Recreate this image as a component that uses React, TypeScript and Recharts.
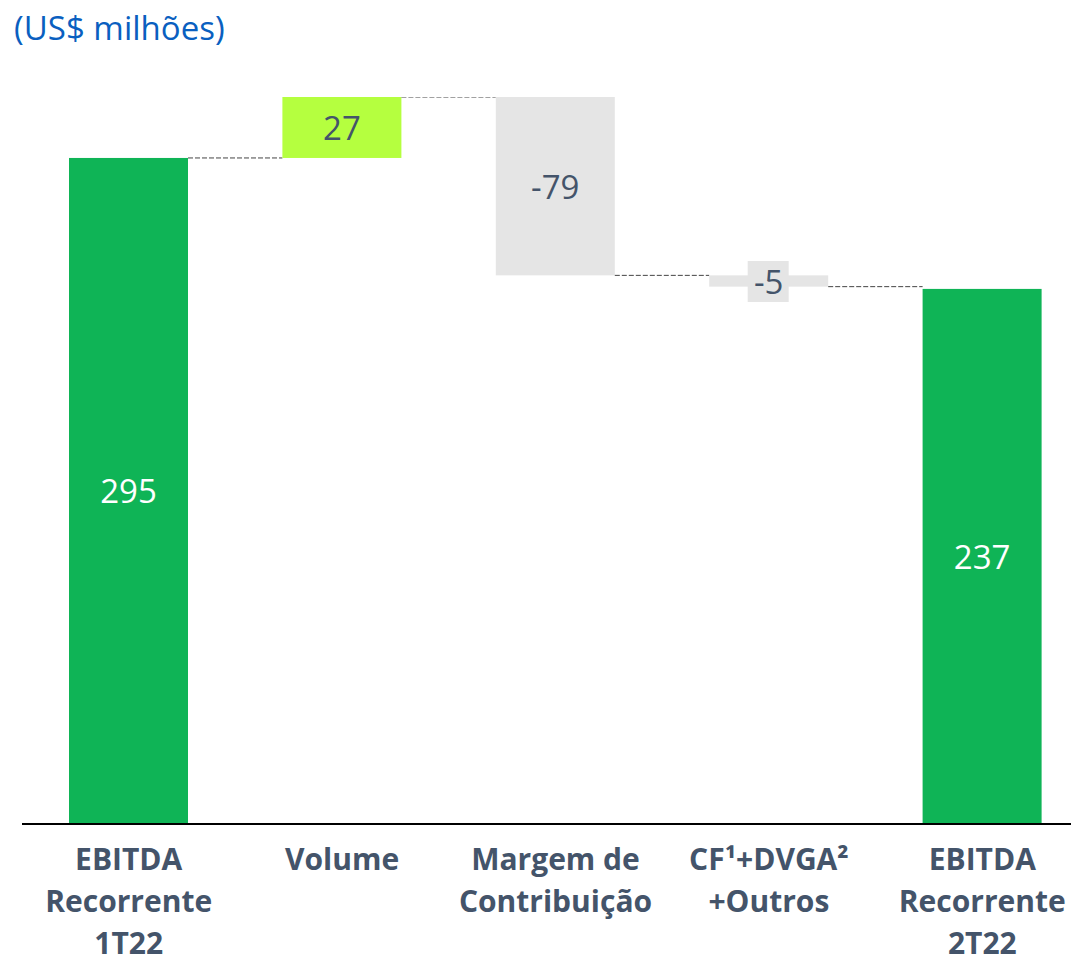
import { BarChart, Bar, XAxis, YAxis, Cell, LabelList } from 'recharts'

// EBITDA waterfall (US$ milhões)
const categories = [
  'EBITDA\nRecorrente\n1T22',
  'Volume',
  'Margem de\nContribuição',
  'CF¹+DVGA²\n+Outros',
  'EBITDA\nRecorrente\n2T22',
]
const values = [295, 27, -79, -5, 237]
const isTotal = [true, false, false, false, true]
const barColors = ['#0fb456', '#b5ff3f', '#e5e5e5', '#e5e5e5', '#0fb456']
const labelColors = ['#ffffff', '#44546a', '#44546a', '#44546a', '#ffffff']

const CHART_W = 1100
const CHART_H = 963
const MARGIN = { top: 97, right: 11, bottom: 0, left: 22 }
const BAR_SIZE = 119
const BAND = (CHART_W - MARGIN.left - MARGIN.right) / categories.length
const GAP = BAND - BAR_SIZE

// monta base invisível + altura visível
let running = 0
const data = categories.map((name, i) => {
  const v = values[i]
  let base = 0
  let height = v
  if (isTotal[i]) {
    running = v
  } else {
    base = Math.min(running, running + v)
    height = Math.abs(v)
    running = running + v
  }
  return { name, base, height, value: v, last: i === categories.length - 1 }
})

const FONT = '"Open Sans", "Noto Sans", sans-serif'

const WaterfallBar = (props: any) => {
  const { x, y, width, height, fill, payload } = props
  const connY = payload.value >= 0 ? y : y + height
  return (
    <g>
      <rect x={x} y={y} width={width} height={height} fill={fill} />
      {!payload.last && (
        <line
          x1={x + width}
          x2={x + width + GAP}
          y1={connY}
          y2={connY}
          stroke="#444"
          strokeWidth={1}
          strokeDasharray="5 2"
        />
      )}
    </g>
  )
}

const ValueLabel = (props: any) => {
  const { x, y, width, height, index } = props
  const cx = x + width / 2
  const cy = y + height / 2
  const small = Math.abs(height) < 30
  return (
    <g>
      {small && <rect x={cx - 21} y={cy - 20} width={41} height={41} fill="#e5e5e5" />}
      <text
        x={cx}
        y={cy}
        textAnchor="middle"
        dominantBaseline="central"
        fill={labelColors[index]}
        fontSize={33}
        fontFamily={FONT}
      >
        {values[index]}
      </text>
    </g>
  )
}

const CategoryTick = (props: any) => {
  const { x, y, payload } = props
  const lines = String(payload.value).split('\n')
  return (
    <text
      x={x}
      y={y}
      textAnchor="middle"
      fill="#44546a"
      fontSize={30}
      fontWeight={700}
      fontFamily={FONT}
    >
      {lines.map((line, i) => (
        <tspan key={i} x={x} y={y + 38 + i * 42}>
          {line}
        </tspan>
      ))}
    </text>
  )
}

export default function App() {
  return (
    <div
      style={{
        position: 'absolute',
        left: 0,
        top: 0,
        width: 1071,
        height: 963,
        overflow: 'hidden',
        background: '#fff',
      }}
    >
      <div
        style={{
          position: 'absolute',
          left: 14,
          top: 5,
          fontFamily: FONT,
          fontSize: 33,
          color: '#0a5fc0',
          zIndex: 1,
        }}
      >
        (US$ milhões)
      </div>
      <BarChart width={CHART_W} height={CHART_H} data={data} margin={MARGIN} barCategoryGap={0}>
        <XAxis
          dataKey="name"
          interval={0}
          tickLine={false}
          axisLine={{ stroke: '#000', strokeWidth: 2 }}
          tick={<CategoryTick />}
          height={139}
        />
        <YAxis hide domain={[0, 322]} allowDataOverflow />
        <Bar dataKey="base" stackId="a" fill="transparent" isAnimationActive={false} barSize={BAR_SIZE} />
        <Bar
          dataKey="height"
          stackId="a"
          isAnimationActive={false}
          barSize={BAR_SIZE}
          shape={<WaterfallBar />}
        >
          {data.map((d, i) => (
            <Cell key={d.name} fill={barColors[i]} />
          ))}
          <LabelList dataKey="value" content={<ValueLabel />} />
        </Bar>
      </BarChart>
    </div>
  )
}
